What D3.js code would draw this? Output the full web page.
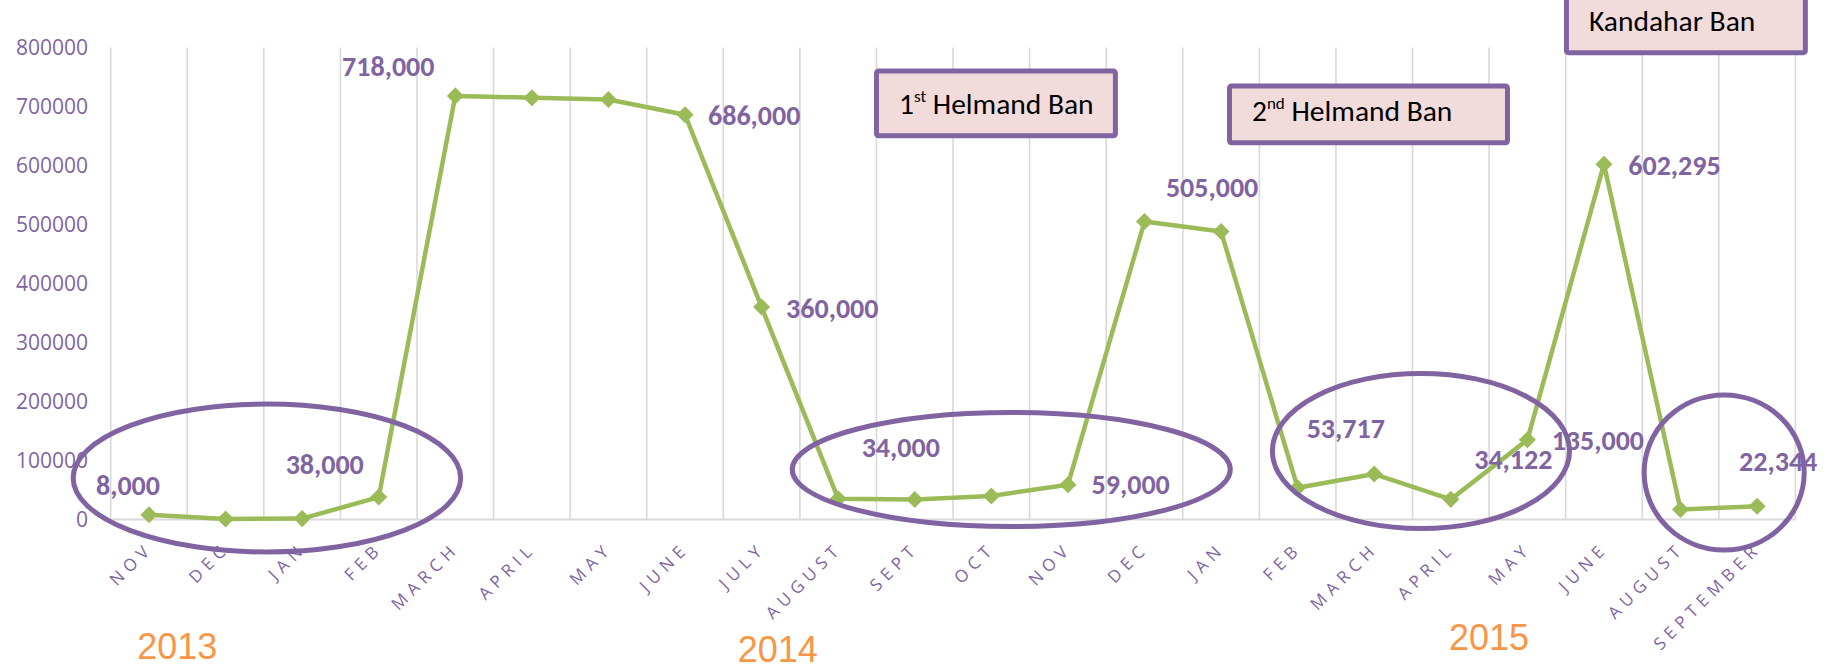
<!DOCTYPE html>
<html>
<head>
<meta charset="utf-8">
<script src="https://cdn.jsdelivr.net/npm/d3@7/dist/d3.min.js"></script>
<style>
  html, body { margin: 0; padding: 0; background: #ffffff; }
  svg { display: block; }
</style>
</head>
<body>
<script>
// Monthly series, Nov 2013 – Sep 2015
const categories = ["NOV", "DEC", "JAN", "FEB", "MARCH", "APRIL", "MAY", "JUNE", "JULY", "AUGUST",
  "SEPT", "OCT", "NOV", "DEC", "JAN", "FEB", "MARCH", "APRIL", "MAY", "JUNE", "AUGUST", "SEPTEMBER"];
const values = [8000, 1000, 1500, 38000, 718000, 715000, 712000, 686000, 360000, 35000,
  34000, 40000, 59000, 505000, 488000, 53717, 77000, 34122, 135000, 602295, 17000, 22344];
const yTicks = [0, 100000, 200000, 300000, 400000, 500000, 600000, 700000, 800000];
const years = ["2013", "2014", "2015"];
const labelled = [0, 3, 4, 7, 8, 10, 12, 13, 15, 17, 18, 19, 21];   // points carrying a value label
const bans = [
  { pre: "1", sup: "st", text: " Helmand Ban" },
  { pre: "2", sup: "nd", text: " Helmand Ban" },
  { pre: "", sup: "", text: "Kandahar Ban" }
];

const W = 1835, H = 670;
const PURPLE = "#8064A2", GREEN = "#9BBB59", ORANGE = "#F79646", GRID = "#D9D9D9";

const svg = d3.select("body").append("svg").attr("width", W).attr("height", H);

const x = d3.scaleBand().domain(d3.range(categories.length)).range([110.7, 1795.4]).padding(0);
const y = d3.scaleLinear().domain([0, 800000]).range([519.5, 47.5]);
const cx = i => x(i) + x.bandwidth() / 2;          // centre of a category
const xAt = f => x.range()[0] + f * x.step();      // fractional category position

// vertical gridlines at category boundaries
svg.append("g").selectAll("line")
  .data(d3.range(categories.length + 1))
  .join("line")
  .attr("x1", d => xAt(d)).attr("x2", d => xAt(d))
  .attr("y1", y(800000)).attr("y2", y(0))
  .attr("stroke", GRID).attr("stroke-width", 1.6);

// baseline
svg.append("line")
  .attr("x1", x.range()[0]).attr("x2", x.range()[1])
  .attr("y1", y(0)).attr("y2", y(0))
  .attr("stroke", GRID).attr("stroke-width", 2);

// y axis
const yAxis = svg.append("g")
  .attr("transform", `translate(${x.range()[0]},0)`)
  .call(d3.axisLeft(y).tickValues(yTicks).tickSize(0).tickPadding(22.7).tickFormat(d3.format("d")));
yAxis.select(".domain").remove();
yAxis.selectAll("text")
  .attr("fill", PURPLE)
  .style("font-family", "'Open Sans', 'Liberation Sans', sans-serif")
  .style("font-size", "21px");

// x axis, rotated month labels
const xAxis = svg.append("g")
  .attr("transform", `translate(0,${y(0)})`)
  .call(d3.axisBottom(x).tickSize(0).tickFormat(i => categories[i]));
xAxis.select(".domain").remove();
xAxis.selectAll("text")
  .attr("fill", PURPLE)
  .attr("text-anchor", "end")
  .attr("y", 0).attr("dy", 0)
  .attr("transform", "translate(5,30) rotate(-45)")
  .style("font-family", "'Open Sans', 'Liberation Sans', sans-serif")
  .style("font-weight", "400")
  .style("font-size", "17px")
  .style("letter-spacing", "5.5px");

// series line
svg.append("path")
  .datum(values)
  .attr("fill", "none")
  .attr("stroke", GREEN)
  .attr("stroke-width", 4.5)
  .attr("stroke-linejoin", "round")
  .attr("d", d3.line().x((d, i) => cx(i)).y(d => y(d)));

// diamond markers
svg.append("g").selectAll("path")
  .data(values)
  .join("path")
  .attr("d", d3.symbol(d3.symbolSquare, 145))
  .attr("transform", (d, i) => `translate(${cx(i)},${y(d)}) rotate(45)`)
  .attr("fill", GREEN);

// value labels: offset from the point and anchor
const labelPlace = {
  0: [-21, -20, "middle"], 3: [-54, -23, "middle"], 4: [-67, -20, "middle"],
  7: [23, 10, "start"], 8: [24.5, 11, "start"], 10: [-14, -42.5, "middle"],
  12: [23.7, 9.5, "start"], 13: [21.4, -25, "start"], 15: [9, -49.4, "start"],
  17: [23.4, -30, "start"], 18: [24.3, 10, "start"], 19: [24.3, 11, "start"],
  21: [-18, -35, "start"]
};
svg.append("g").selectAll("text")
  .data(labelled)
  .join("text")
  .attr("x", i => cx(i) + labelPlace[i][0])
  .attr("y", i => y(values[i]) + labelPlace[i][1])
  .attr("text-anchor", i => labelPlace[i][2])
  .attr("fill", PURPLE)
  .style("font-family", "Carlito, Lato, 'Open Sans', sans-serif")
  .style("font-weight", "bold")
  .style("font-size", "28px")
  .text(i => d3.format(",")(values[i]));

// year captions
const yearPlace = [[0.87, 659], [8.71, 662], [18.0, 650]];
svg.append("g").selectAll("text")
  .data(years)
  .join("text")
  .attr("x", (d, i) => xAt(yearPlace[i][0]))
  .attr("y", (d, i) => yearPlace[i][1])
  .attr("text-anchor", "middle")
  .attr("fill", ORANGE)
  .style("font-family", "'Liberation Sans', Arial, sans-serif")
  .style("font-size", "36px")
  .text(d => d);

// ban boxes: category span and value span
const banPlace = [
  [10.0, 13.12, 760000, 650500],
  [14.61, 18.24, 734700, 638600],
  [19.01, 22.13, 910000, 791200]
];
const boxes = svg.append("g").selectAll("g")
  .data(bans)
  .join("g");
boxes.append("rect")
  .attr("x", (d, i) => xAt(banPlace[i][0]))
  .attr("y", (d, i) => y(banPlace[i][2]))
  .attr("width", (d, i) => xAt(banPlace[i][1]) - xAt(banPlace[i][0]))
  .attr("height", (d, i) => y(banPlace[i][3]) - y(banPlace[i][2]))
  .attr("rx", 2)
  .attr("fill", "#F2DCDB")
  .attr("stroke", PURPLE)
  .attr("stroke-width", 5);
const bt = boxes.append("text")
  .attr("x", (d, i) => xAt(banPlace[i][0]) + 22.5)
  .attr("y", (d, i) => y(banPlace[i][3]) - 21.5)
  .attr("fill", "#000")
  .style("font-family", "Carlito, Lato, 'Open Sans', sans-serif")
  .style("font-size", "29.5px");
bt.append("tspan").text(d => d.pre);
bt.append("tspan").text(d => d.sup).style("font-size", "17px").attr("dy", d => d.sup ? -12 : 0);
bt.append("tspan").text(d => d.text).attr("dy", d => d.sup ? 12 : 0);

// ellipses around the low periods: centre (category, value), radii (categories, value)
const rings = [
  [2.04, 70300, 2.53, 125400],
  [11.76, 84700, 2.86, 96600],
  [17.11, 116100, 1.94, 131400],
  [21.07, 79700, 1.045, 131400]
];
svg.append("g").selectAll("ellipse")
  .data(rings)
  .join("ellipse")
  .attr("cx", d => xAt(d[0]))
  .attr("cy", d => y(d[1]))
  .attr("rx", d => d[2] * x.step())
  .attr("ry", d => y(0) - y(d[3]))
  .attr("fill", "none")
  .attr("stroke", PURPLE)
  .attr("stroke-width", 5);
</script>
</body>
</html>
